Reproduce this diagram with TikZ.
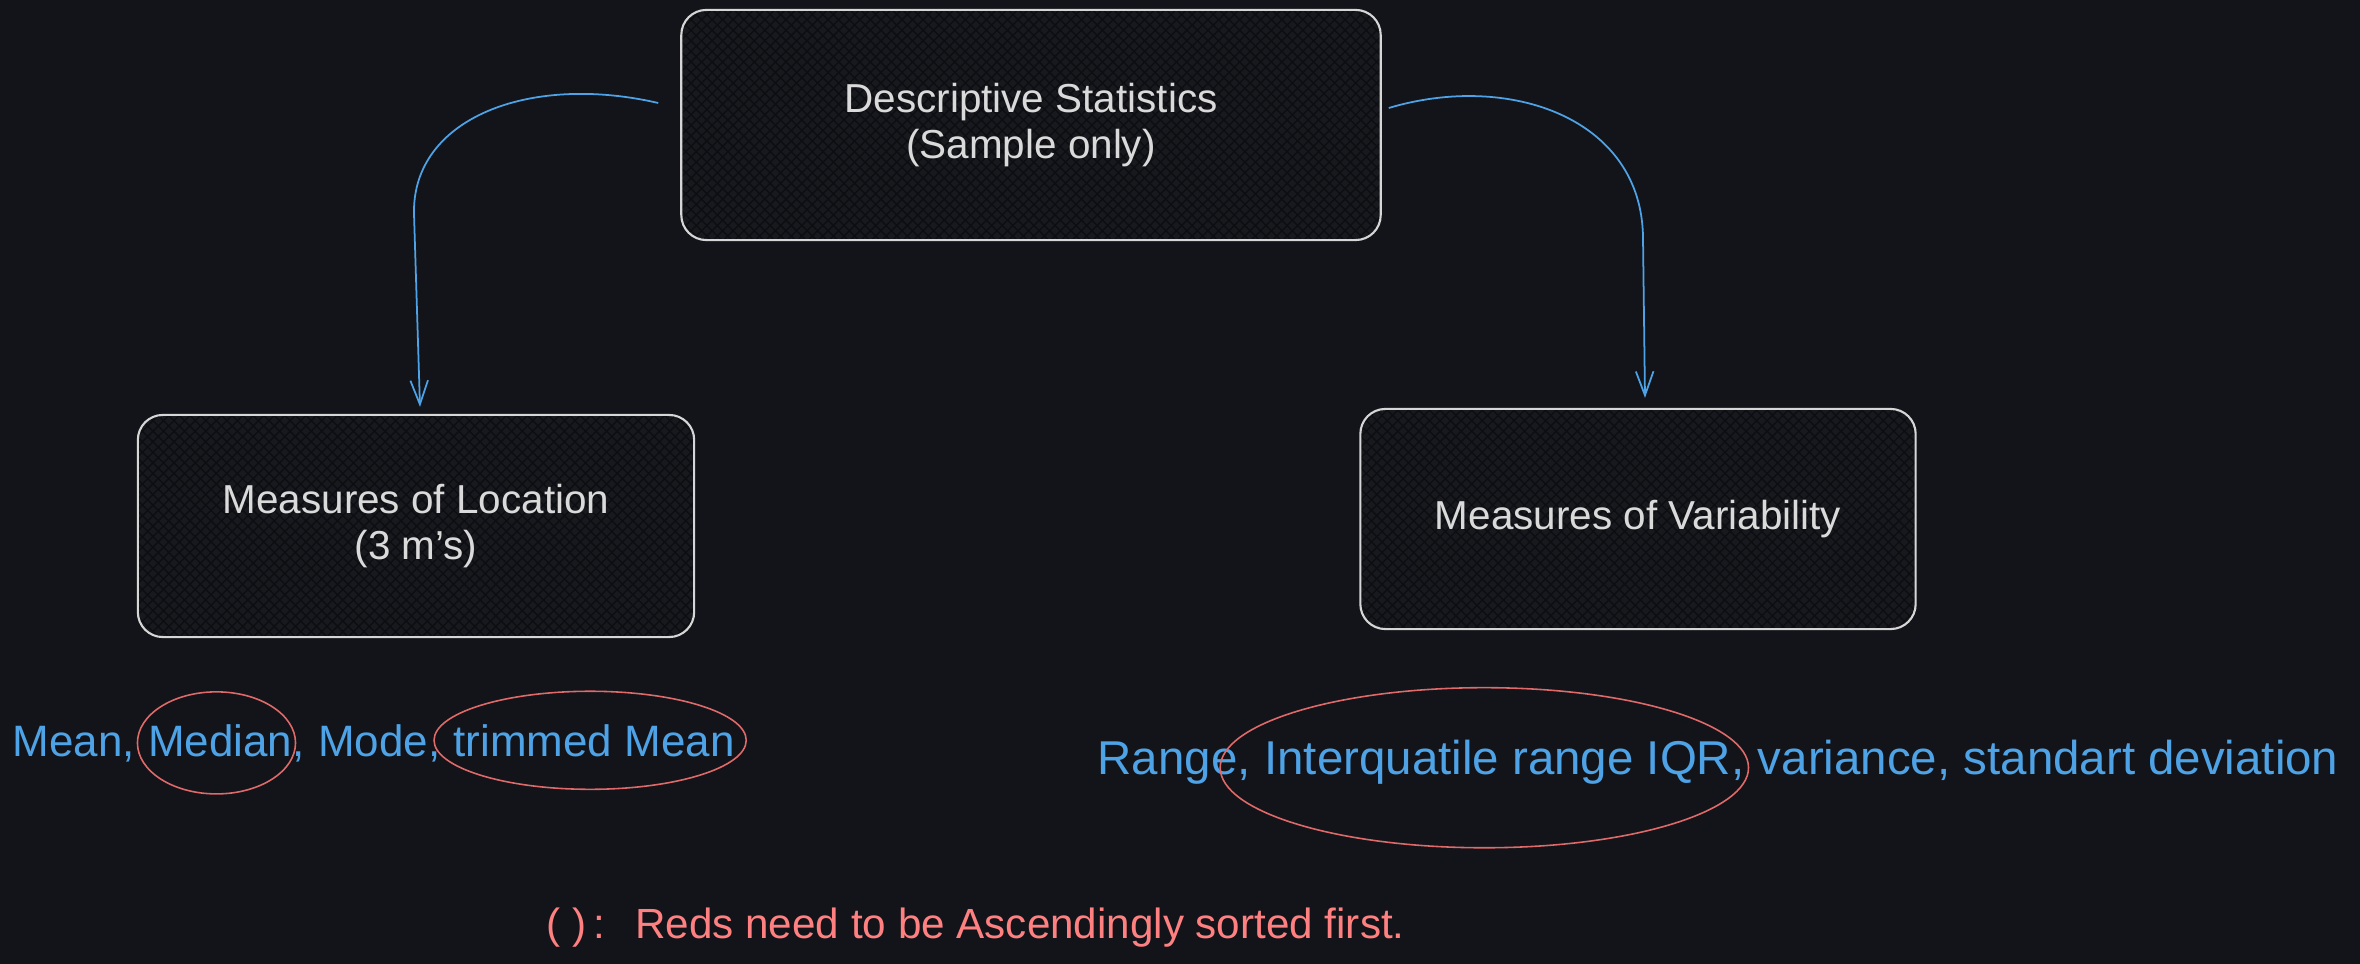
\documentclass[tikz,border=0pt]{standalone}
\usepackage{fontspec}
\setmainfont{Liberation Sans}
\usepackage{xcolor}
\usepackage{tikz}
\usetikzlibrary{positioning, arrows.meta, patterns}

\definecolor{bgdark}{HTML}{121419}
\definecolor{boxfill}{HTML}{17191E}
\definecolor{hatch}{HTML}{0D0E11}
\definecolor{boxline}{HTML}{D6D6D6}
\definecolor{txtlight}{HTML}{DADADA}
\definecolor{itemblue}{HTML}{4EA2E6}
\definecolor{ringred}{HTML}{E06A6A}
\definecolor{notered}{HTML}{FF8080}

\begin{document}
\begin{tikzpicture}[x=0.01cm, y=-0.01cm, every node/.style={inner sep=0pt},
    box/.style={draw=boxline, line width=0.6pt, rounded corners=0.25cm, text=txtlight, align=center,
        font=\fontsize{11.5}{13}\selectfont, preaction={fill=boxfill},
        preaction={pattern=north west lines, pattern color=hatch},
        pattern=north east lines, pattern color=hatch},
    flow/.style={draw=itemblue, line width=0.5pt, -{Straight Barb[length=6.8pt,width=5pt]}},
    itemL/.style={text=itemblue, font=\fontsize{12.5}{15}\selectfont},
    itemR/.style={text=itemblue, font=\fontsize{13.5}{16}\selectfont},
    ring/.style={draw=ringred, line width=0.45pt}]
    % Background
    \path[use as bounding box, fill=bgdark] (0,0) rectangle (2360,964);
    % Boxes
    \node[box, minimum width=6.99cm, minimum height=2.3cm] (desc) at (1031,125) {Descriptive Statistics\\(Sample only)};
    \node[box, minimum width=5.56cm, minimum height=2.22cm] (loc) at (416,526) {Measures of Location\\(3 m's)};
    \node[box, minimum width=5.55cm, minimum height=2.2cm] (var) at (1638,519) {Measures of Variability};
    % Arrows
    \draw[flow] ([shift={(-22,-22)}]desc.west) .. controls +(-130,-30) and +(-2,-95) .. ([shift={(-2,-200)}]loc.north) -- ([shift={(4,-7)}]loc.north);
    \draw[flow] ([shift={(7,-17)}]desc.east) .. controls +(120,-36) and +(-1,-120) .. ([shift={(5,-170)}]var.north) -- ([shift={(7,-10)}]var.north);
    % Measures of location
    \node[itemL, anchor=base west] (lmean) at (12,756) {Mean,};
    \node[itemL, base right=0.12cm of lmean] (lmedian) {Median,};
    \node[itemL, base right=0.12cm of lmedian] (lmode) {Mode,};
    \node[itemL, base right=0.12cm of lmode] (ltrim) {trimmed Mean};
    % Measures of variability
    \node[itemR, anchor=base west] (rrange) at (1097,774) {Range,};
    \node[itemR, base right=0.12cm of rrange] (riqr) {Interquatile range IQR,};
    \node[itemR, base right=0.12cm of riqr] (rrest) {variance, standart deviation};
    % Red rings
    \foreach \n/\dx/\dy/\rx/\ry in {lmedian/-10/0/0.79/0.51, ltrim/-4/0/1.56/0.49, riqr/-20/6/2.64/0.80} {
        \draw[ring] ([shift={(\dx,\dy)}]\n.center) ellipse [x radius=\rx cm, y radius=\ry cm];
    }
    % Note
    \node[text=notered, anchor=west, font=\fontsize{12}{14}\selectfont] (note) at (546,928) {( )\,:\hspace{0.3cm}Reds need to be Ascendingly sorted first.};
\end{tikzpicture}
\end{document}
